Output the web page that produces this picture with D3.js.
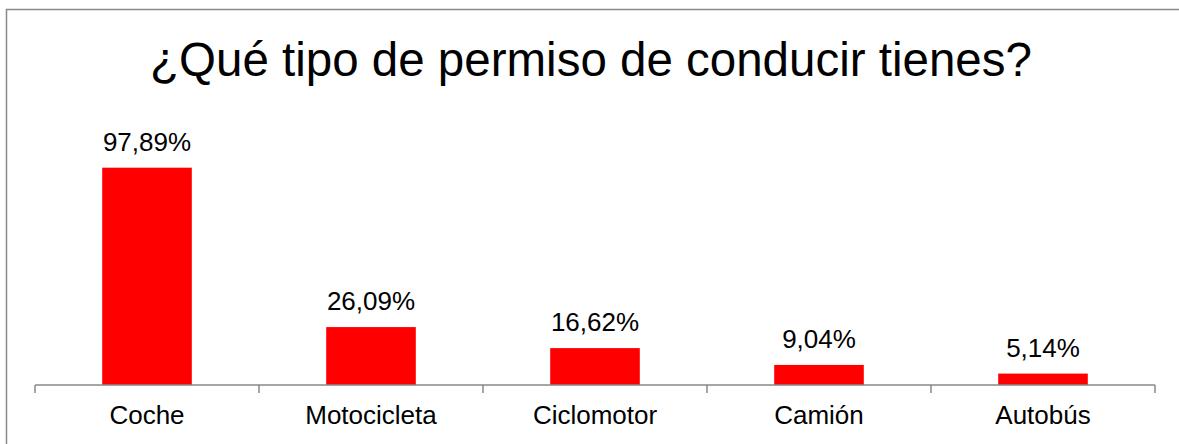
<!DOCTYPE html>
<html>
<head>
<meta charset="utf-8">
<script src="https://cdn.jsdelivr.net/npm/d3@7"></script>
<style>
  body { margin: 0; background: #fff; }
  text { font-family: "Liberation Sans", Arial, sans-serif; fill: #000; }
</style>
</head>
<body>
<div class="chart"></div>
<script>
const categories = ['Coche', 'Motocicleta', 'Ciclomotor', 'Camión', 'Autobús'];
const values = [97.89, 26.09, 16.62, 9.04, 5.14];
const title = '¿Qué tipo de permiso de conducir tienes?';

const width = 1179, height = 444;
const plot = {left: 35, right: 1155, bottom: 385, top: 163};

const svg = d3.select('.chart').append('svg')
  .attr('width', width)
  .attr('height', height);

// chart frame (runs off the right and bottom edge like the source)
svg.append('rect')
  .attr('x', 6.5).attr('y', 9.5)
  .attr('width', 1200).attr('height', 500)
  .attr('fill', 'none')
  .attr('stroke', '#888')
  .attr('stroke-width', 1.5);

svg.append('text')
  .attr('x', 591)
  .attr('y', 76)
  .attr('text-anchor', 'middle')
  .style('font-size', '47.5px')
  .text(title);

const xCat = d3.scaleBand()
  .domain(categories)
  .range([plot.left, plot.right])
  .padding(0);

const xBar = d3.scaleBand()
  .domain(categories)
  .range([plot.left, plot.right])
  .paddingInner(0.6)
  .paddingOuter(0.3);

const y = d3.scaleLinear()
  .domain([0, 100])
  .range([plot.bottom, plot.top]);

const fmt = d3.formatLocale({decimal: ',', thousands: '.', grouping: [3], currency: ['', '€']}).format('.2f');

const data = categories.map((c, i) => ({cat: c, val: values[i]}));

svg.selectAll('.bar')
  .data(data)
  .enter()
  .append('rect')
  .attr('class', 'bar')
  .attr('x', d => xBar(d.cat))
  .attr('width', xBar.bandwidth())
  .attr('y', d => y(d.val))
  .attr('height', d => y(0) - y(d.val))
  .attr('fill', '#ff0000');

svg.selectAll('.val')
  .data(data)
  .enter()
  .append('text')
  .attr('class', 'val')
  .attr('x', d => xCat(d.cat) + xCat.bandwidth() / 2)
  .attr('y', d => y(d.val) - 17)
  .attr('text-anchor', 'middle')
  .style('font-size', '26px')
  .text(d => fmt(d.val) + '%');

// category axis: baseline with ticks on the band edges
const edges = categories.map(c => xCat(c)).concat([xCat.range()[1]]);
svg.append('line')
  .attr('x1', plot.left).attr('x2', plot.right)
  .attr('y1', y(0)).attr('y2', y(0))
  .attr('stroke', '#888')
  .attr('stroke-width', 1.5);

svg.selectAll('.tick')
  .data(edges)
  .enter()
  .append('line')
  .attr('class', 'tick')
  .attr('x1', d => d).attr('x2', d => d)
  .attr('y1', y(0)).attr('y2', y(0) + 8)
  .attr('stroke', '#888')
  .attr('stroke-width', 1.5);

svg.selectAll('.cat')
  .data(categories)
  .enter()
  .append('text')
  .attr('class', 'cat')
  .attr('x', d => xCat(d) + xCat.bandwidth() / 2)
  .attr('y', 424)
  .attr('text-anchor', 'middle')
  .style('font-size', '26px')
  .text(d => d);
</script>
</body>
</html>
